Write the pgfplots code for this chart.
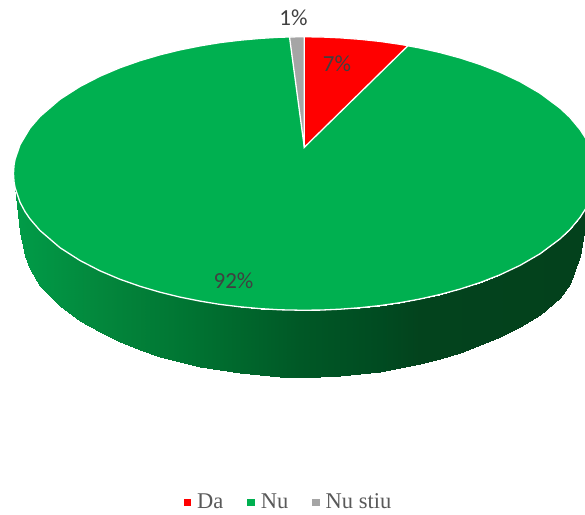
\documentclass[border=0pt]{standalone}
\usepackage{pgfplots}
\pgfplotsset{compat=1.18}
\usepackage{fontspec}
\setmainfont{Carlito}
\newfontfamily\legendfont{Liberation Serif}
\definecolor{cda}{HTML}{FF0000}
\definecolor{cnu}{HTML}{00B050}
\definecolor{cns}{HTML}{A5A5A5}
\definecolor{lbl}{HTML}{404040}
\definecolor{leg}{HTML}{595959}
\pgfplotsset{
  colormap={sidegreen}{
    rgb255(0pt)=(0,160,74)
    rgb255(100pt)=(3,135,60)
    rgb255(190pt)=(0,116,50)
    rgb255(300pt)=(0,88,38)
    rgb255(380pt)=(0,75,33)
    rgb255(420pt)=(3,67,29)
    rgb255(585pt)=(3,65,28)
  }
}
\begin{document}
\begin{tikzpicture}
\begin{axis}[
  scale only axis,
  width=585pt, height=513pt,
  xmin=0, xmax=585, ymin=0, ymax=513,
  y dir=reverse,
  hide axis,
  colormap name=sidegreen,
  point meta min=0, point meta max=585,
  legend columns=-1,
  legend style={
    at={(axis cs:288.5,502)}, anchor=center, draw=none, fill=none,
    font=\legendfont\fontsize{22.5}{24}\selectfont\color{leg},
    /tikz/every even column/.append style={column sep=22pt},
    /tikz/every odd column/.append style={column sep=4.5pt},
  },
  legend image code/.code={\fill[#1] (0pt,-3pt) rectangle (6.5pt,3pt);},
]
% hidden axis gives no box of its own
\path (axis cs:0,0) rectangle (axis cs:585,513);
% side wall, strip by strip
\addplot[forget plot, patch, patch type=rectangle, shader=interp,
  table/row sep=\\, point meta=\thisrow{m},
  patch table={
    0 1 3 2\\ 2 3 5 4\\ 4 5 7 6\\ 6 7 9 8\\ 8 9 11 10\\ 10 11 13 12\\
    12 13 15 14\\ 14 15 17 16\\ 16 17 19 18\\ 18 19 21 20\\ 20 21 23 22\\
    22 23 25 24\\ 24 25 27 26\\ 26 27 29 28\\ 28 29 31 30\\ 30 31 33 32\\
    32 33 35 34\\ 34 35 37 36\\ 36 37 39 38\\ 38 39 41 40\\ 40 41 43 42\\
    42 43 45 44\\ 44 45 47 46\\ 46 47 49 48\\ 48 49 51 50\\ 50 51 53 52\\
    52 53 55 54\\ 54 55 57 56\\ 56 57 59 58\\ 58 59 61 60\\ 60 61 63 62\\
    62 63 65 64\\ 64 65 67 66\\
  }] table {
  x y m\\
  15 187.4 15\\ 15 187.4 15\\
  20 202.2 20\\ 20 232.0 20\\
  25 211.6 25\\ 25 256.0 25\\
  30 218.9 30\\ 30 269.0 30\\
  40 230.5 40\\ 40 286.0 40\\
  60 247.7 60\\ 60 306.0 60\\
  80 260.5 80\\ 80 321.0 80\\
  100 270.8 100\\ 100 332.3 100\\
  120 279.3 120\\ 120 342.0 120\\
  140 286.3 140\\ 140 350.0 140\\
  160 292.2 160\\ 160 356.7 160\\
  180 297.1 180\\ 180 362.3 180\\
  200 301.1 200\\ 200 366.8 200\\
  220 304.4 220\\ 220 370.4 220\\
  240 306.8 240\\ 240 373.2 240\\
  260 308.6 260\\ 260 375.2 260\\
  280 309.8 280\\ 280 376.5 280\\
  300 310.2 300\\ 300 377.0 300\\
  320 310.1 320\\ 320 376.8 320\\
  340 309.2 340\\ 340 375.8 340\\
  360 307.7 360\\ 360 374.1 360\\
  380 305.6 380\\ 380 371.6 380\\
  400 302.7 400\\ 400 368.3 400\\
  420 299.0 420\\ 420 364.2 420\\
  440 294.5 440\\ 440 359.1 440\\
  460 289.1 460\\ 460 352.8 460\\
  480 282.6 480\\ 480 345.4 480\\
  500 274.8 500\\ 500 337.0 500\\
  520 265.4 520\\ 520 327.0 520\\
  540 253.8 540\\ 540 315.0 540\\
  560 238.9 560\\ 560 298.0 560\\
  570 229.5 570\\ 570 284.0 570\\
  580 217.5 580\\ 580 256.0 580\\
  586 208.2 586\\ 586 220.0 586\\
};
% Nu 92%
\addplot[forget plot, fill=cnu, draw=white, line width=1.3pt] coordinates {
  (13.5,173.5) (14,165.5) (15,159.6) (20,144.8) (30,128.1) (40,116.5)
  (60,99.3) (80,86.5) (100,76.2) (120,67.7) (140,60.7) (160,54.8) (180,49.9)
  (200,45.9) (220,42.6) (240,40.2) (260,38.4) (280,37.2) (300,36.8) (320,36.9)
  (340,37.8) (360,39.3) (380,41.4) (400,44.3) (420,48.0) (440,52.5) (460,57.9)
  (480,64.4) (500,72.2) (520,81.6) (540,93.2) (560,108.1) (570,117.5)
  (580,129.5) (586,138.8) (590,147) (595.5,173.5) (590,200) (586,208.2)
  (580,217.5) (570,229.5) (560,238.9) (540,253.8) (520,265.4) (500,274.8)
  (480,282.6) (460,289.1) (440,294.5) (420,299.0) (400,302.7) (380,305.6)
  (360,307.7) (340,309.2) (320,310.1) (300,310.2) (280,309.8) (260,308.6)
  (240,306.8) (220,304.4) (200,301.1) (180,297.1) (160,292.2) (140,286.3)
  (120,279.3) (100,270.8) (80,260.5) (60,247.7) (40,230.5) (30,218.9)
  (25,211.6) (20,202.2) (15,187.4) (14,181.5)
} -- cycle;
% Da 7%
\addplot[forget plot, fill=cda, draw=white, line width=1.3pt] coordinates {
  (304.3,147.3) (304.3,36.8) (320,36.9) (340,37.8) (360,39.3) (380,41.4)
  (400,44.3) (408,45.7)
} -- cycle;
% Nu stiu 1%
\addplot[forget plot, fill=cns, draw=white, line width=1.3pt] coordinates {
  (304.3,147.3) (289.5,37.0) (297,36.8) (304.3,36.8)
} -- cycle;
\addlegendimage{cda}\addlegendentry{Da}
\addlegendimage{cnu}\addlegendentry{Nu}
\addlegendimage{cns}\addlegendentry{Nu stiu}
\begin{scope}[every node/.style={text=lbl, font=\fontsize{23}{26}\selectfont, inner sep=0pt}]
\node at (axis cs:293.5,17.5) {1\%};
\node at (axis cs:337,64) {7\%};
\node at (axis cs:233.5,281) {92\%};
\end{scope}
\end{axis}
\end{tikzpicture}
\end{document}
